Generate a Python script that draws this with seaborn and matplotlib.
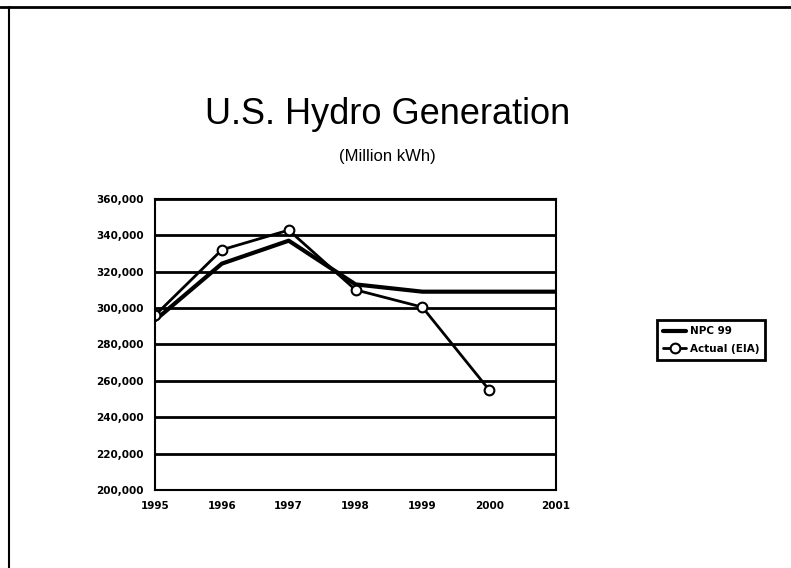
import matplotlib
matplotlib.use("Agg")
import matplotlib.pyplot as plt
import seaborn as sns
import pandas as pd
from matplotlib.lines import Line2D
from matplotlib.ticker import FuncFormatter

years = [1995, 1996, 1997, 1998, 1999, 2000, 2001]
npc_99 = [293300, 324400, 337000, 313000, 309000, 309000, 309000]

actual_years = [1995, 1996, 1997, 1998, 1999, 2000]
actual_eia = [296000, 332000, 342800, 310000, 300500, 255000]

y_ticks = [200000, 220000, 240000, 260000, 280000, 300000, 320000, 340000, 360000]

npc_df = pd.DataFrame({"year": years, "gen": npc_99})
eia_df = pd.DataFrame({"year": actual_years, "gen": actual_eia})

sns.set_style("white")
plt.rcParams["font.family"] = ["DejaVu Sans"]
plt.rcParams["text.color"] = "black"

fig = plt.figure(figsize=(7.91, 5.68), dpi=100)
ax = fig.add_axes([0.196, 0.137, 0.507, 0.513])

sns.lineplot(x="year", y="gen", data=npc_df, ax=ax, color="black",
             linewidth=3, label="NPC 99")
sns.lineplot(x="year", y="gen", data=eia_df, ax=ax, color="black",
             linewidth=2, marker="o", markersize=7, markerfacecolor="white",
             markeredgecolor="black", markeredgewidth=1.5, label="Actual (EIA)")

ax.set_xlim(1995, 2001)
ax.set_ylim(200000, 360000)
ax.set_xticks(years)
ax.set_yticks(y_ticks)
ax.yaxis.set_major_formatter(FuncFormatter(lambda v, p: f"{int(v):,}"))
ax.set_xlabel("")
ax.set_ylabel("")
ax.grid(True, axis="y", color="black", linewidth=2)
ax.set_axisbelow(True)
for s in ax.spines.values():
    s.set_color("black")
    s.set_linewidth(1.5)
ax.tick_params(axis="both", direction="inout", length=8, width=1.5,
               colors="black", labelsize=7.5, pad=4)
for lbl in ax.get_xticklabels() + ax.get_yticklabels():
    lbl.set_fontweight("bold")

leg = ax.legend(loc="center left", bbox_to_anchor=(652 / 791, 1 - 340 / 568),
                bbox_transform=fig.transFigure, frameon=True, fancybox=False,
                framealpha=1, prop={"size": 7.5, "weight": "bold"},
                handlelength=2.2, borderpad=0.6, labelspacing=0.7,
                handletextpad=0.3)
leg.get_frame().set_edgecolor("black")
leg.get_frame().set_linewidth(2)
for t in leg.get_texts():
    t.set_color("black")

fig.text(0.49, 1 - 115 / 568, "U.S. Hydro Generation", ha="center", va="center",
         fontsize=26, family="Liberation Sans", color="black")
fig.text(0.49, 1 - 157 / 568, "(Million kWh)", ha="center", va="center",
         fontsize=12, family="Liberation Sans", color="black")

# frame of the scanned page
fig.add_artist(Line2D([0, 1], [1 - 7 / 568, 1 - 7 / 568], color="black",
                      linewidth=2, transform=fig.transFigure))
fig.add_artist(Line2D([9 / 791, 9 / 791], [0, 1 - 7 / 568], color="black",
                      linewidth=1.5, transform=fig.transFigure))

plt.savefig("out.png", dpi=100)
